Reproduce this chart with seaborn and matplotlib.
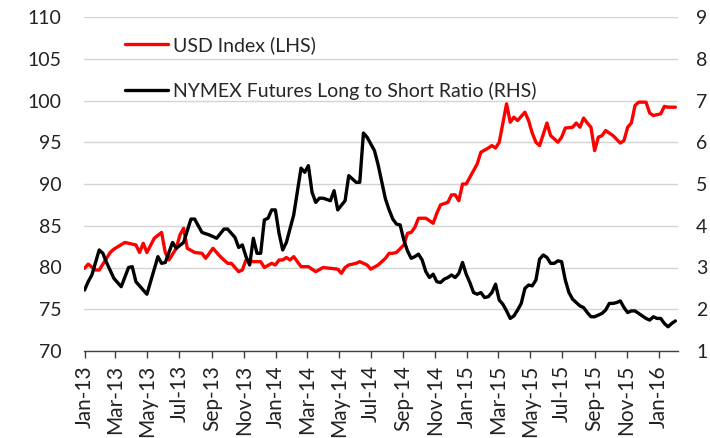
import numpy as np
import pandas as pd
import matplotlib
matplotlib.use("Agg")
import matplotlib.pyplot as plt
import matplotlib.dates as mdates
from matplotlib.lines import Line2D
import seaborn as sns

# weeks counted from 1 Jan 2013
usd_weeks = [0, 1, 3, 4, 7, 8, 11, 12, 14, 15, 16, 17, 19, 21, 22, 23, 25, 26, 27, 28,
             30, 32, 33, 35, 37, 39, 40, 42, 43, 44, 46, 48, 49, 51, 52, 53, 54, 55, 56, 57,
             59, 61, 63, 65, 67, 69, 70, 71, 72, 74, 75, 77, 78, 80, 82, 83, 84, 85, 87, 88,
             89, 90, 91, 93, 95, 96, 97, 99, 100, 101, 102, 103, 104, 106, 107, 108, 110, 111, 112, 113,
             114, 115, 116, 117, 118, 120, 121, 122, 123, 124, 126, 127, 129, 130, 131, 133, 134, 135, 136, 137,
             138, 139, 140, 141, 142, 144, 146, 147, 148, 149, 150, 151, 153, 154, 155, 157, 158, 159, 161]
usd_index = [79.9, 80.4, 79.7, 79.7, 81.8, 82.2, 83.0, 82.9, 82.7, 81.8, 82.9, 81.8, 83.5, 84.2, 81.8, 80.9, 82.3, 83.9, 84.7, 82.3,
             81.8, 81.7, 81.1, 82.3, 81.3, 80.5, 80.5, 79.5, 79.7, 80.9, 80.7, 80.7, 80.0, 80.5, 80.3, 80.9, 80.9, 81.2, 80.9, 81.3,
             80.1, 80.1, 79.5, 80.0, 79.9, 79.8, 79.3, 80.0, 80.3, 80.5, 80.7, 80.3, 79.8, 80.3, 81.1, 81.7, 81.7, 81.8, 82.7, 84.1,
             84.2, 84.8, 85.9, 85.9, 85.3, 86.5, 87.5, 87.8, 88.7, 88.7, 88.0, 90.0, 90.0, 91.6, 92.4, 93.8, 94.3, 94.6, 94.3, 95.0,
             97.3, 99.6, 97.4, 98.0, 97.6, 98.6, 97.6, 96.1, 95.0, 94.6, 97.3, 95.8, 95.0, 95.6, 96.7, 96.8, 97.3, 96.8, 97.9, 97.3,
             96.8, 94.0, 95.6, 95.8, 96.4, 95.8, 94.9, 95.2, 96.8, 97.3, 99.4, 99.8, 99.8, 98.5, 98.2, 98.4, 99.3, 99.2, 99.2]

ratio_weeks = [0, 1, 2, 4, 5, 6, 8, 10, 12, 13, 14, 16, 17, 18, 20, 21, 22, 24, 25, 27,
               29, 30, 32, 34, 36, 38, 39, 41, 42, 43, 44, 45, 46, 47, 48, 49, 50, 51, 52, 53,
               54, 55, 57, 59, 60, 61, 62, 63, 64, 65, 67, 68, 69, 71, 72, 74, 75, 76, 77, 79,
               80, 82, 83, 84, 85, 86, 87, 88, 89, 90, 91, 92, 93, 94, 95, 96, 97, 98, 99, 100,
               101, 102, 103, 104, 105, 106, 107, 108, 109, 110, 111, 112, 113, 114, 115, 116, 117, 118, 119, 120,
               121, 122, 123, 124, 125, 126, 127, 128, 129, 130, 131, 132, 133, 134, 135, 136, 137, 138, 139, 140,
               141, 142, 143, 144, 145, 146, 147, 148, 149, 150, 151, 152, 153, 154, 155, 156, 157, 158, 159, 160, 161]
long_short_ratio = [2.46, 2.66, 2.82, 3.42, 3.34, 3.12, 2.74, 2.54, 3.00, 3.02, 2.66, 2.46, 2.36, 2.66, 3.26, 3.10, 3.12, 3.60, 3.46, 3.60,
                    4.16, 4.16, 3.84, 3.78, 3.70, 3.92, 3.92, 3.72, 3.48, 3.54, 3.26, 3.06, 3.70, 3.34, 3.34, 4.14, 4.18, 4.38, 4.38, 3.82,
                    3.42, 3.60, 4.26, 5.38, 5.28, 5.44, 4.80, 4.56, 4.66, 4.66, 4.60, 4.84, 4.38, 4.60, 5.20, 5.04, 5.04, 6.22, 6.12, 5.80,
                    5.46, 4.64, 4.38, 4.16, 4.04, 4.02, 3.66, 3.40, 3.22, 3.26, 3.32, 3.18, 2.90, 2.76, 2.84, 2.66, 2.64, 2.72, 2.76, 2.82,
                    2.76, 2.86, 3.12, 2.84, 2.64, 2.40, 2.36, 2.40, 2.28, 2.30, 2.40, 2.60, 2.22, 2.12, 1.96, 1.78, 1.84, 1.98, 2.14, 2.50,
                    2.58, 2.56, 2.70, 3.20, 3.30, 3.24, 3.10, 3.10, 3.16, 3.14, 2.70, 2.40, 2.24, 2.16, 2.08, 2.04, 1.92, 1.82, 1.82, 1.86,
                    1.90, 1.98, 2.14, 2.14, 2.16, 2.20, 2.04, 1.92, 1.96, 1.96, 1.90, 1.84, 1.78, 1.74, 1.82, 1.78, 1.78, 1.66, 1.58, 1.66, 1.72]

labels = ["USD Index (LHS)", "NYMEX Futures Long to Short Ratio (RHS)"]

start = pd.Timestamp("2013-01-01")
usd = pd.DataFrame({"date": start + pd.to_timedelta(np.array(usd_weeks) * 7, unit="D"),
                    "value": usd_index})
nymex = pd.DataFrame({"date": start + pd.to_timedelta(np.array(ratio_weeks) * 7, unit="D"),
                      "value": long_short_ratio})

sns.set_theme(style="white")
plt.rcParams["font.family"] = ["Lato", "DejaVu Sans"]

fig = plt.figure(figsize=(7.1, 4.38), dpi=100)
ax = fig.add_axes([84 / 710, 1 - 351 / 438, (678 - 84) / 710, (351 - 17) / 438])
ax2 = ax.twinx()

sns.lineplot(data=usd, x="date", y="value", ax=ax, color="#ff0000", lw=2.4, legend=False)
sns.lineplot(data=nymex, x="date", y="value", ax=ax2, color="black", lw=2.4, legend=False)

# axes
ax.set_xlim(pd.Timestamp("2012-12-31"), pd.Timestamp("2016-02-07"))
ax.set_ylim(70, 110)
ax.set_yticks(range(70, 111, 5))
ax2.set_ylim(1, 9)
ax2.set_yticks(range(1, 10))
ax.grid(axis="y", color="#d4d4d4", lw=1)
ax.grid(axis="x", visible=False)
ax.set_axisbelow(True)

ax.xaxis.set_major_locator(mdates.MonthLocator(bymonth=[1, 3, 5, 7, 9, 11]))
ax.xaxis.set_major_formatter(mdates.DateFormatter("%b-%y"))

for a in (ax, ax2):
    a.set_xlabel("")
    a.set_ylabel("")
    for s in ("left", "right", "top"):
        a.spines[s].set_visible(False)
ax2.spines["bottom"].set_visible(False)
ax.spines["bottom"].set_color("#404040")
ax.spines["bottom"].set_linewidth(1)

ax.tick_params(axis="y", length=0, pad=16, labelsize=14, colors="#222222")
ax2.tick_params(axis="y", length=0, pad=13, labelsize=14, colors="#222222")
ax.tick_params(axis="x", bottom=True, length=5, width=1, color="#404040", direction="out",
               labelsize=15, pad=5, labelrotation=90, labelcolor="#222222")

# legend
handles = [Line2D([0], [0], color="#ff0000", lw=2.4), Line2D([0], [0], color="black", lw=2.4)]
ax2.legend(handles, labels, loc="upper left", bbox_to_anchor=(125 / 710, 1 - 36 / 438),
           bbox_transform=fig.transFigure, frameon=False, fontsize=14, handlelength=2.2,
           handletextpad=0.25, labelspacing=1.45, borderpad=0, borderaxespad=0)

fig.savefig("out.png", dpi=100)
